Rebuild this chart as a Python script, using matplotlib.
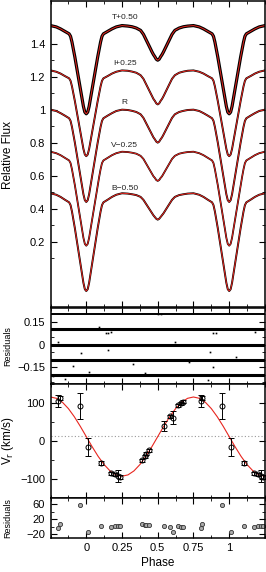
import numpy as np
import matplotlib.pyplot as plt
from matplotlib.ticker import MultipleLocator, FixedLocator

plt.rcParams['font.family'] = ['Liberation Sans', 'DejaVu Sans']

# light curves, phase 0..0.5 (symmetric about 0.5)
ph_half = [0, 0.01, 0.02, 0.03, 0.04, 0.05, 0.06, 0.07, 0.08, 0.09, 0.10, 0.11, 0.12,
           0.15, 0.18, 0.21, 0.25, 0.29, 0.32, 0.35, 0.38, 0.40, 0.42, 0.44, 0.46,
           0.47, 0.48, 0.49, 0.50]
lc_T = [0.975, 0.985, 1.020, 1.070, 1.120, 1.170, 1.220, 1.270, 1.320, 1.365, 1.410, 1.445, 1.460,
        1.475, 1.490, 1.502, 1.510, 1.507, 1.503, 1.495, 1.481, 1.457, 1.422, 1.386, 1.350,
        1.334, 1.321, 1.306, 1.300]
lc_I = [0.718, 0.728, 0.762, 0.811, 0.859, 0.907, 0.956, 1.005, 1.053, 1.097, 1.141, 1.175, 1.190,
        1.204, 1.219, 1.230, 1.238, 1.236, 1.231, 1.224, 1.209, 1.187, 1.152, 1.117, 1.081,
        1.065, 1.053, 1.038, 1.032]
lc_R = [0.440, 0.451, 0.487, 0.540, 0.592, 0.644, 0.696, 0.749, 0.801, 0.848, 0.895, 0.932, 0.948,
        0.964, 0.979, 0.992, 1.000, 0.998, 0.993, 0.986, 0.972, 0.950, 0.916, 0.882, 0.848,
        0.832, 0.820, 0.806, 0.800]
lc_V = [0.175, 0.186, 0.223, 0.276, 0.329, 0.382, 0.436, 0.489, 0.543, 0.591, 0.638, 0.676, 0.692,
        0.708, 0.724, 0.736, 0.745, 0.743, 0.739, 0.733, 0.720, 0.701, 0.671, 0.641, 0.611,
        0.596, 0.586, 0.573, 0.568]
lc_B = [-0.100, -0.089, -0.050, 0.006, 0.061, 0.116, 0.172, 0.227, 0.282, 0.332, 0.382, 0.421, 0.438,
        0.454, 0.471, 0.484, 0.493, 0.491, 0.487, 0.482, 0.471, 0.453, 0.426, 0.399, 0.371,
        0.359, 0.349, 0.338, 0.333]
lc_labels = ['T+0.50', 'I+0.25', 'R', 'V\u22120.25', 'B\u22120.50']
label_y = [1.56, 1.28, 1.044, 0.78, 0.52]

# light curve residuals (offset bands) and a few outliers
res_offsets = [0.2, 0.1, 0.0, -0.1, -0.2]
res_out_ph = [0.135, 0.15, 0.175, 0.887, 0.911, -0.035, 0.864, 0.15, 0.62, -0.094, 0.887, 0.33,
              -0.152, 0.852, -0.234, 0.5, 0.52, 0.02, 1.05, 0.09, 0.72, 1.18, -0.2, 0.41]
res_out_val = [0.078, 0.074, 0.085, 0.075, 0.075, -0.057, -0.047, -0.035, 0.02, -0.141, -0.15, -0.13,
               -0.229, -0.233, -0.207, 0.205, 0.204, -0.18, -0.08, 0.115, -0.118, 0.085, 0.018, -0.185]

# radial velocities
rv_phase = [0.011, 0.105, 0.172, 0.198, 0.222, 0.233, 0.387, 0.408, 0.420, 0.437, 0.542,
            0.589, 0.607, 0.642, 0.660, 0.675, 0.800, 0.813, 0.953]
rv_vel = [-16, -57, -84, -87, -91, -93, -50, -40, -33, -24, 40, 66, 62, 94, 99, 103, 105, 114, 93]
rv_err = [24, 5, 4, 4, 16, 5, 4, 4, 4, 4, 12, 4, 17, 4, 4, 4, 16, 5, 34]
rv_res = [-13, 3, 0, 3, 3, 2, 7, 5, 4, 5, 2, -1, -14, 2, 1, 1, -2, 9, 57]
gamma = 14

fit_phase = [i / 24 for i in range(25)]
fit_vel = [12, -14.9, -40, -61.5, -78.1, -88.5, -92, -88.5, -78.1, -61.5, -40, -14.9,
           12, 38.9, 64, 85.5, 102.1, 112.5, 116, 112.5, 102.1, 85.5, 64, 38.9, 12]

phase_ticks = [0, 0.25, 0.5, 0.75, 1]


def full_cycle(vals):
    ph = list(ph_half) + [1 - p for p in reversed(ph_half[:-1])]
    v = list(vals) + list(reversed(vals[:-1]))
    return np.array(ph), np.array(v)


def tile(ph, v):
    ph = np.asarray(ph)
    v = np.asarray(v)
    return np.concatenate([ph - 1, ph, ph + 1]), np.concatenate([v, v, v])


def minus(y, p):
    return ('%g' % y).replace('-', '\u2212')


def style(ax):
    ax.set_xlim(-0.25, 1.25)
    ax.xaxis.set_major_locator(FixedLocator(phase_ticks))
    ax.xaxis.set_minor_locator(MultipleLocator(0.125))
    ax.tick_params(which='both', direction='in', top=True, right=True, labelsize=8, pad=4)
    ax.tick_params(which='major', length=4, width=0.8)
    ax.tick_params(which='minor', length=2, width=0.6)
    for s in ax.spines.values():
        s.set_linewidth(1.1)


fig = plt.figure(figsize=(2.66, 5.72), dpi=100)
L, W = 0.19, 0.806
ax1 = fig.add_axes([L, 0.4638, W, 0.5353])
ax2 = fig.add_axes([L, 0.3287, W, 0.1323])
ax3 = fig.add_axes([L, 0.1288, W, 0.1998])
ax4 = fig.add_axes([L, 0.0603, W, 0.0685])

# light curves
for vals, lab, ly, lw in zip([lc_T, lc_I, lc_R, lc_V, lc_B], lc_labels, label_y,
                             [2.3, 1.4, 1.4, 1.3, 1.4]):
    ph, v = tile(*full_cycle(vals))
    ax1.plot(ph, v, color='black', lw=lw, solid_joinstyle='round')
    ax1.plot(ph, v, color='#e8261f', lw=0.7)
    ax1.text(0.27, ly, lab, fontsize=6, ha='center', va='center', color='#222222')
ax1.set_ylim(-0.195, 1.662)
ax1.yaxis.set_major_locator(FixedLocator([0.2, 0.4, 0.6, 0.8, 1.0, 1.2, 1.4]))
ax1.yaxis.set_major_formatter(plt.FuncFormatter(minus))
ax1.yaxis.set_minor_locator(FixedLocator([0.1, 0.3, 0.5, 0.7, 0.9, 1.1, 1.3]))
style(ax1)
ax1.tick_params(labelbottom=False)

# light curve residuals
for off, lw in zip(res_offsets, [1.4, 2.2, 2.2, 2.2, 2.2]):
    ax2.axhline(off, color='black', lw=lw)
ax2.plot(res_out_ph, res_out_val, 's', color='black', ms=1.2, mew=0)
ax2.set_ylim(-0.26, 0.24)
ax2.yaxis.set_major_locator(FixedLocator([-0.15, 0, 0.15]))
ax2.yaxis.set_major_formatter(plt.FuncFormatter(minus))
ax2.yaxis.set_minor_locator(MultipleLocator(0.05))
style(ax2)
ax2.tick_params(labelbottom=False)

# radial velocities
fp, fv = tile(fit_phase, fit_vel)
ax3.axhline(gamma, color='#999999', lw=0.8, ls=(0, (1, 2)))
ax3.plot(fp, fv, color='#e8261f', lw=0.8)
rp, rv = tile(rv_phase, rv_vel)
_, re = tile(rv_phase, rv_err)
ax3.errorbar(rp, rv, yerr=re, fmt='o', ms=3.6, mfc='none', mec='black', mew=0.7,
             ecolor='black', elinewidth=0.7, capsize=2.5, capthick=0.7)
ax3.set_ylim(-150, 150)
ax3.yaxis.set_major_locator(MultipleLocator(100))
ax3.yaxis.set_major_formatter(plt.FuncFormatter(minus))
ax3.yaxis.set_minor_locator(MultipleLocator(50))
style(ax3)
ax3.tick_params(labelbottom=False)

# rv residuals
rp, rr = tile(rv_phase, rv_res)
ax4.plot(rp, rr, 'o', ms=3.0, mfc='#aaaaaa', mec='#333333', mew=0.6)
ax4.set_ylim(-28, 76)
ax4.yaxis.set_major_locator(FixedLocator([-20, 20, 60]))
ax4.yaxis.set_major_formatter(plt.FuncFormatter(minus))
ax4.yaxis.set_minor_locator(FixedLocator([0, 40]))
style(ax4)
ax4.xaxis.set_major_formatter(plt.FuncFormatter(lambda x, p: '%g' % x))
ax4.set_xlabel('Phase', fontsize=8.5, labelpad=3)

fig.text(8.5 / 266, 1 - 155 / 572, 'Relative Flux', rotation=90, fontsize=8.5, ha='center', va='center')
fig.text(8.0 / 266, 1 - 346 / 572, 'Residuals', rotation=90, fontsize=6.5, ha='center', va='center')
fig.text(8.5 / 266, 1 - 441 / 572, 'V$_{\\rm r}$ (km/s)', rotation=90, fontsize=8.5, ha='center', va='center')
fig.text(8.0 / 266, 1 - 518 / 572, 'Residuals', rotation=90, fontsize=6.5, ha='center', va='center')

fig.savefig('out.png', dpi=100)
